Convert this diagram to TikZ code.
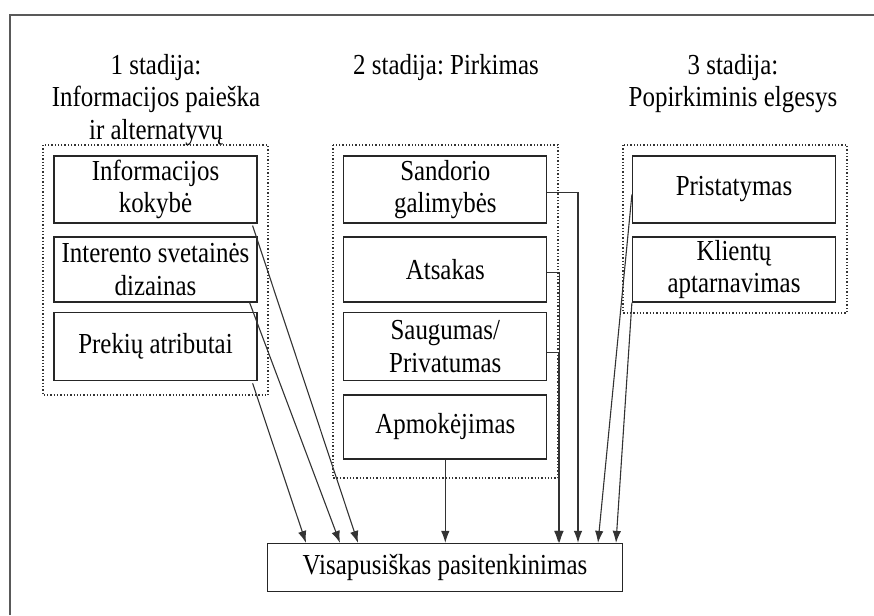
\documentclass[tikz,border=0pt]{standalone}
\usepackage{fontspec}
\setmainfont[FakeStretch=0.86]{Liberation Serif}
\frenchspacing
\usetikzlibrary{arrows.meta}
\tikzset{
  box/.style={draw=black!85, line width=1.2pt, minimum width=203pt, align=center, inner sep=0pt, font=\fontsize{29}{32.5}\selectfont},
  grp/.style={draw=black!80, dotted, line width=1.3pt},
  arr/.style={draw=black!80, line width=1.1pt, -{Latex[length=12pt,width=8.5pt]}},
  title/.style={align=center, anchor=north, inner sep=0pt, font=\fontsize{29}{32.5}\selectfont}
}
\begin{document}
\begin{tikzpicture}[x=1pt,y=-1pt]
  \useasboundingbox (0,0) rectangle (874,615);
  \draw[black!65, line width=2.5pt] (10,615) -- (10,15) -- (874,15);

  % stadijos
  \node[title] (st1) at (156,54) {1 stadija:\\Informacijos paieška\\ir alternatyvų};
  \node[title] (st2) at (446,54) {2 stadija: Pirkimas};
  \node[title] (st3) at (733,54) {3 stadija:\\Popirkiminis elgesys};

  % grupes
  \draw[grp] (43,145) rectangle (268,395);
  \draw[grp] (333,145) rectangle (558,478);
  \draw[grp] (623,145) rectangle (847,313);

  \node[box, minimum height=67pt] (kokybe) at (155.5,189.5) {Informacijos\\kokybė};
  \node[box, minimum height=65pt] (dizainas) at (155.5,269.5) {Interento svetainės\\dizainas};
  \node[box, minimum height=68pt] (prekiu) at (155.5,346.7) {Prekių atributai};

  \node[box, minimum height=67pt] (sandorio) at (445.3,189.5) {Sandorio\\galimybės};
  \node[box, minimum height=65pt] (atsakas) at (445.3,269.5) {Atsakas};
  \node[box, minimum height=68pt] (saugumas) at (445.3,346.7) {Saugumas/\\Privatumas};
  \node[box, minimum height=64pt] (apmok) at (445.3,427) {Apmokėjimas};

  \node[box, minimum height=67pt] (prist) at (734,189.5) {Pristatymas};
  \node[box, minimum height=65pt] (klientu) at (734,269.5) {Klientų\\aptarnavimas};

  \node[box, minimum width=355pt, minimum height=48pt] (vis) at (445,567.5) {Visapusiškas pasitenkinimas};

  % rodykles
  \draw[arr] ([xshift=-5pt,yshift=-2pt]kokybe.south east) -- ([xshift=-87pt]vis.north);
  \draw[arr] ([xshift=-8pt]dizainas.south east) -- ([xshift=-105pt]vis.north);
  \draw[arr] ([xshift=-5pt,yshift=-2pt]prekiu.south east) -- ([xshift=-139pt]vis.north);
  \draw[arr] (apmok.south) -- (apmok.south |- vis.north);
  \draw[arr] ([yshift=-3pt]sandorio.east) -| ([xshift=133pt]vis.north);
  \draw[arr] ([yshift=-3pt]atsakas.east) -| ([xshift=114.5pt]vis.north);
  \draw[arr] ([yshift=-6pt]saugumas.east) -| ([xshift=113.3pt]vis.north);
  \draw[arr] ([yshift=-5pt]prist.west) -- ([xshift=153pt]vis.north);
  \draw[arr] (klientu.south west) -- ([xshift=171pt]vis.north);
\end{tikzpicture}
\end{document}
